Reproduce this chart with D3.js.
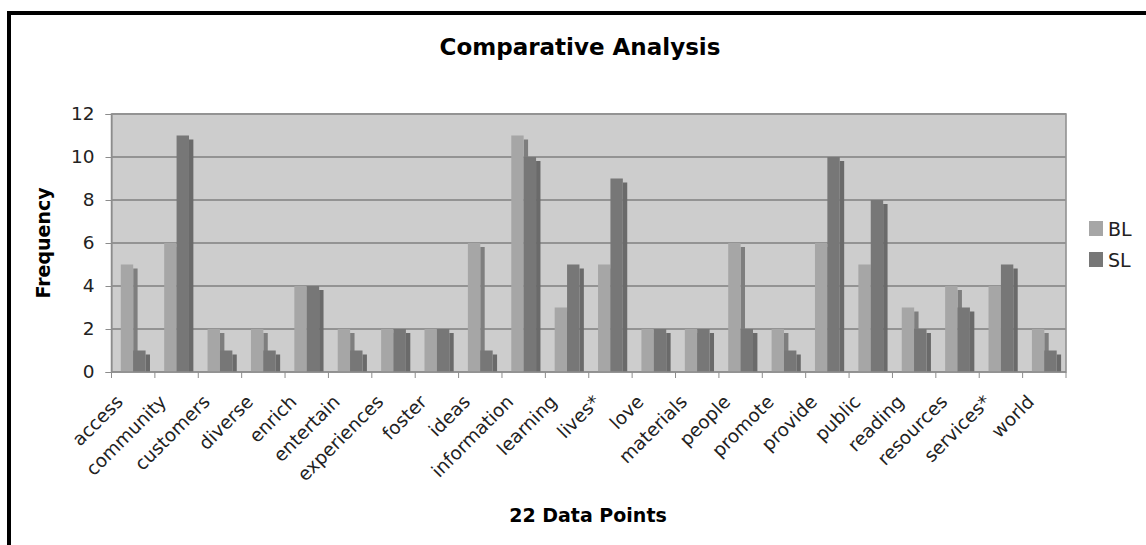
<!DOCTYPE html>
<html>
<head>
<meta charset="utf-8">
<script src="https://cdn.jsdelivr.net/npm/d3@7"></script>
<style>
  body { margin: 0; background: #fff; }
  svg { display: block; font-family: "DejaVu Sans", Verdana, sans-serif; }
</style>
</head>
<body>
<div id="container"></div>
<script>
const width = 1146;
const height = 545;

// data
const categories = ['access', 'community', 'customers', 'diverse', 'enrich', 'entertain',
    'experiences', 'foster', 'ideas', 'information', 'learning', 'lives*', 'love',
    'materials', 'people', 'promote', 'provide', 'public', 'reading', 'resources',
    'services*', 'world'];
const blValues = [5, 6, 2, 2, 4, 2, 2, 2, 6, 11, 3, 5, 2, 2, 6, 2, 6, 5, 3, 4, 4, 2];
const slValues = [1, 11, 1, 1, 4, 1, 2, 2, 1, 10, 5, 9, 2, 2, 2, 1, 10, 8, 2, 3, 5, 1];
const seriesNames = ['BL', 'SL'];
const yTicks = [0, 2, 4, 6, 8, 10, 12];

const front = { BL: '#a6a6a6', SL: '#777777' };
const side = { BL: '#7e7e7e', SL: '#6a6a6a' };

const margin = { left: 111.5, right: 1066, top: 114, bottom: 372 };

const svg = d3.select('#container').append('svg')
    .attr('width', width)
    .attr('height', height);

// outer frame
svg.append('rect')
    .attr('x', 9).attr('y', 13)
    .attr('width', 1160).attr('height', 560)
    .attr('fill', 'none')
    .attr('stroke', '#000')
    .attr('stroke-width', 4);

const x = d3.scaleBand()
    .domain(categories)
    .range([margin.left, margin.right]);

const xs = d3.scaleBand()
    .domain(seriesNames)
    .range([0, x.bandwidth()])
    .paddingInner(0)
    .paddingOuter(0.75);

const y = d3.scaleLinear()
    .domain([0, 12])
    .range([margin.bottom, margin.top]);

// plot background
svg.append('rect')
    .attr('x', margin.left)
    .attr('y', margin.top)
    .attr('width', margin.right - margin.left)
    .attr('height', margin.bottom - margin.top)
    .attr('fill', '#cdcdcd')
    .attr('stroke', '#8c8c8c')
    .attr('stroke-width', 1.5);

// gridlines
svg.append('g')
    .selectAll('line')
    .data(yTicks.slice(1))
    .join('line')
    .attr('x1', margin.left)
    .attr('x2', margin.right)
    .attr('y1', d => y(d))
    .attr('y2', d => y(d))
    .attr('stroke', '#939393')
    .attr('stroke-width', 2);

// bars
const rows = categories.map((c, i) => ({ cat: c, BL: blValues[i], SL: slValues[i] }));
const depthX = 4.4, depthY = 4;

seriesNames.forEach(s => {
    const g = svg.append('g');
    // side face
    g.selectAll('rect.side')
        .data(rows)
        .join('rect')
        .attr('class', 'side')
        .attr('x', d => x(d.cat) + xs(s) + xs.bandwidth())
        .attr('y', d => y(d[s]) + depthY)
        .attr('width', depthX)
        .attr('height', d => y(0) - y(d[s]) - depthY)
        .attr('fill', side[s]);
    // front face
    g.selectAll('rect.front')
        .data(rows)
        .join('rect')
        .attr('class', 'front')
        .attr('x', d => x(d.cat) + xs(s))
        .attr('y', d => y(d[s]))
        .attr('width', xs.bandwidth())
        .attr('height', d => y(0) - y(d[s]))
        .attr('fill', front[s]);
});

// y axis
const yAxis = svg.append('g')
    .attr('transform', `translate(${margin.left},0)`)
    .call(d3.axisLeft(y).tickValues(yTicks).tickSize(6).tickPadding(11));
yAxis.select('.domain').attr('stroke', '#8c8c8c');
yAxis.selectAll('.tick line').attr('stroke', '#8c8c8c');
yAxis.selectAll('.tick text')
    .attr('font-size', 18.5)
    .attr('font-family', '"DejaVu Sans", Verdana, sans-serif')
    .attr('fill', '#222');

// x axis line + ticks between categories
svg.append('line')
    .attr('x1', margin.left).attr('x2', margin.right)
    .attr('y1', margin.bottom).attr('y2', margin.bottom)
    .attr('stroke', '#8c8c8c')
    .attr('stroke-width', 1.5);

const bounds = categories.map(c => x(c)).concat([margin.right]);
svg.append('g')
    .selectAll('line')
    .data(bounds)
    .join('line')
    .attr('x1', d => d).attr('x2', d => d)
    .attr('y1', margin.bottom).attr('y2', margin.bottom + 6)
    .attr('stroke', '#8c8c8c');

// category labels
svg.append('g')
    .selectAll('text')
    .data(categories)
    .join('text')
    .attr('transform', d => `translate(${x(d) + x.bandwidth() / 2 - 9},${403}) rotate(-45)`)
    .attr('text-anchor', 'end')
    .attr('font-size', 18.5)
    .attr('fill', '#222')
    .text(d => d);

// titles
svg.append('text')
    .attr('x', 580).attr('y', 55)
    .attr('text-anchor', 'middle')
    .attr('font-size', 23)
    .attr('font-weight', 'bold')
    .text('Comparative Analysis');

svg.append('text')
    .attr('transform', 'translate(50,243) rotate(-90)')
    .attr('text-anchor', 'middle')
    .attr('font-size', 19)
    .attr('font-weight', 'bold')
    .text('Frequency');

svg.append('text')
    .attr('x', 588).attr('y', 522)
    .attr('text-anchor', 'middle')
    .attr('font-size', 19)
    .attr('font-weight', 'bold')
    .text('22 Data Points');

// legend
const legend = svg.append('g')
    .attr('transform', 'translate(1089,221)');
legend.selectAll('rect')
    .data(seriesNames)
    .join('rect')
    .attr('x', 0)
    .attr('y', (d, i) => i * 31)
    .attr('width', 14)
    .attr('height', 15)
    .attr('fill', d => front[d]);
legend.selectAll('text')
    .data(seriesNames)
    .join('text')
    .attr('x', 19)
    .attr('y', (d, i) => i * 31 + 15)
    .attr('font-size', 19)
    .attr('fill', '#222')
    .text(d => d);
</script>
</body>
</html>
